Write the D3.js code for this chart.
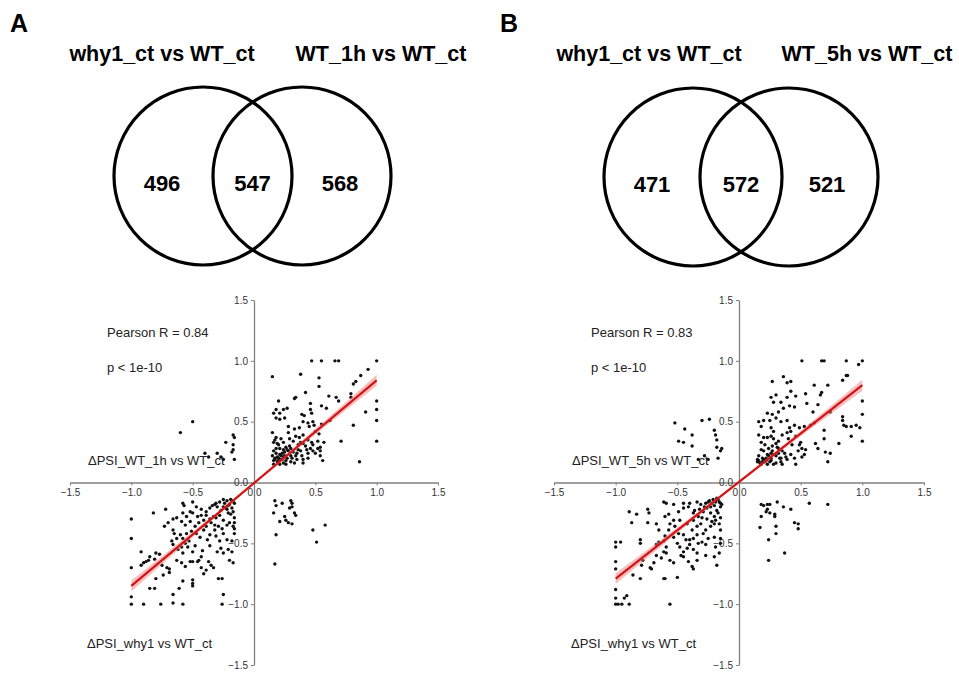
<!DOCTYPE html>
<html>
<head>
<meta charset="utf-8">
<script src="https://cdn.jsdelivr.net/npm/d3@7"></script>
<style>
  body { margin: 0; background: #fff; }
  text { font-family: "Liberation Sans", Arial, sans-serif; }
</style>
</head>
<body>
<script>
// venn data
var vennTitlesA = ['why1_ct vs WT_ct', 'WT_1h vs WT_ct'];
var vennCountsA = [496, 547, 568];
var vennTitlesB = ['why1_ct vs WT_ct', 'WT_5h vs WT_ct'];
var vennCountsB = [471, 572, 521];

// scatter data (x = dPSI why1 vs WT_ct, y = dPSI WT_xh vs WT_ct)
var pointsA = [
  [0.47,1.0],[0.55,1.0],[0.66,1.0],[0.69,1.0],[1.0,1.0],
  [0.15,0.87],[0.38,0.89],[0.53,0.86],[0.93,0.93],[0.87,0.88],[0.83,0.83],[0.81,0.81],
  [0.53,0.79],[0.42,0.74],[0.34,0.70],[0.33,0.69],[0.61,0.71],[0.79,0.73],[0.79,0.70],
  [0.67,0.70],[0.69,0.67],[1.0,0.67],[0.20,0.67],[0.46,0.65],[0.55,0.63],
  [0.18,0.60],[0.24,0.60],[0.27,0.61],[0.16,0.57],[0.21,0.57],[1.0,0.60],[0.91,0.58],
  [0.46,0.60],[0.47,0.57],[0.59,0.61],[0.39,0.56],[0.41,0.55],
  [0.18,0.53],[0.21,0.52],[0.25,0.53],[0.62,0.51],[1.0,0.51],
  [0.40,0.50],[0.44,0.49],[0.48,0.50],[0.49,0.47],[0.55,0.48],[0.45,0.46],[0.81,0.47],
  [0.28,0.46],[0.33,0.44],[0.37,0.45],[0.15,0.41],[0.28,0.41],
  [0.34,0.38],[0.40,0.39],[0.37,0.37],[0.50,0.42],[0.53,0.40],
  [0.18,0.37],[0.22,0.36],[0.29,0.36],[0.32,0.34],[0.44,0.35],[0.71,0.34],[1.0,0.34],[0.57,0.33],
  [0.16,0.33],[0.20,0.31],[0.24,0.33],[0.40,0.32],[0.42,0.30],[0.48,0.31],[0.52,0.28],[0.54,0.29],
  [0.21,0.28],[0.24,0.27],[0.26,0.29],[0.28,0.26],[0.16,0.26],[0.18,0.24],[0.21,0.23],
  [0.36,0.27],[0.38,0.26],[0.44,0.24],[0.48,0.26],[0.54,0.26],
  [0.15,0.22],[0.17,0.20],[0.20,0.20],[0.24,0.21],[0.27,0.20],[0.30,0.22],
  [0.16,0.18],[0.19,0.17],[0.23,0.19],[0.26,0.18],[0.30,0.17],[0.35,0.19],[0.40,0.19],[0.44,0.20],
  [0.34,0.22],[0.39,0.22],[0.54,0.22],[0.56,0.18],[0.86,0.17],
  [0.21,0.15],[0.26,0.15],[0.33,0.16],[0.40,0.16],[0.16,0.15],[0.24,0.16],
  [0.19,0.21],[0.22,0.22],[0.23,0.24],[0.25,0.25],[0.27,0.27],[0.29,0.30],[0.17,0.19],[0.20,0.18],
  [0.22,0.19],[0.25,0.22],[0.18,0.28],[0.19,0.32],[0.17,0.35],[0.30,0.28],[0.32,0.25],[0.35,0.24],
  [0.31,0.20],[0.36,0.31],[0.38,0.33],[0.43,0.27],[0.46,0.28],[0.50,0.24],[0.47,0.33],[0.52,0.34],
  [-0.50,0.50],[-0.60,0.41],[-0.23,0.33],[-0.17,0.39],[-0.16,0.37],[-0.17,0.31],[-0.18,0.25],
  [-0.16,0.19],[-0.17,0.27],[-0.30,0.24],[-0.37,0.21],[-0.27,0.21],[-0.25,0.19],[-0.40,0.24],
  [-1.0,-0.30],[-1.0,-0.46],[-1.0,-0.70],[-1.0,-0.94],[-1.0,-1.0],[-0.90,-1.0],[-0.76,-1.0],
  [-0.66,-0.99],[-0.58,-1.0],[-0.26,-1.0],[-0.25,-0.92],[-0.66,-0.92],[-0.85,-0.87],[-0.81,-0.87],
  [-0.61,-0.87],[-0.58,-0.81],[-0.50,-0.80],[-0.50,-0.83],[-0.50,-0.85],[-0.29,-0.79],[-0.26,-0.79],
  [-0.80,-0.79],[-0.74,-0.76],[-0.92,-0.68],[-0.90,-0.66],[-0.88,-0.65],[-0.86,-0.64],[-0.81,-0.63],
  [-0.77,-0.59],[-0.92,-0.57],[-0.85,-0.61],[-0.80,-0.58],[-0.75,-0.68],[-0.71,-0.70],[-0.69,-0.71],
  [-0.69,-0.74],[-0.63,-0.64],[-0.59,-0.66],[-0.56,-0.69],[-0.52,-0.65],[-0.50,-0.65],[-0.46,-0.65],
  [-0.43,-0.70],[-0.41,-0.75],[-0.39,-0.72],[-0.37,-0.65],[-0.33,-0.70],[-0.35,-0.68],[-0.45,-0.64],
  [-0.43,-0.61],[-0.27,-0.54],[-0.25,-0.58],[-0.21,-0.55],[-0.20,-0.64],[-0.17,-0.66],[-0.18,-0.57],
  [-0.62,-0.55],[-0.58,-0.58],[-0.54,-0.53],[-0.50,-0.57],[-0.67,-0.48],[-0.66,-0.51],[-0.63,-0.46],
  [-0.59,-0.53],[-0.56,-0.50],[-0.53,-0.48],[-0.73,-0.36],[-0.70,-0.33],[-0.66,-0.30],[-0.63,-0.29],
  [-0.59,-0.32],[-0.56,-0.35],[-0.52,-0.32],[-0.48,-0.36],[-0.66,-0.39],[-0.65,-0.42],[-0.60,-0.43],
  [-0.58,-0.46],[-0.55,-0.42],[-0.51,-0.40],[-0.47,-0.42],[-0.41,-0.39],[-0.39,-0.36],[-0.36,-0.43],
  [-0.32,-0.39],[-0.31,-0.44],[-0.28,-0.48],[-0.25,-0.42],[-0.22,-0.47],[-0.18,-0.48],[-0.82,-0.25],
  [-0.72,-0.22],[-0.58,-0.17],[-0.57,-0.19],[-0.50,-0.16],[-0.47,-0.20],[-0.43,-0.22],[-0.39,-0.24],
  [-0.36,-0.21],[-0.32,-0.18],[-0.31,-0.17],[-0.28,-0.16],[-0.25,-0.20],[-0.24,-0.17],[-0.22,-0.22],
  [-0.21,-0.25],[-0.20,-0.18],[-0.18,-0.21],[-0.17,-0.24],[-0.16,-0.17],[-0.28,-0.27],[-0.31,-0.29],
  [-0.33,-0.28],[-0.36,-0.30],[-0.39,-0.27],[-0.41,-0.31],[-0.16,-0.29],[-0.16,-0.33],[-0.16,-0.38],
  [-0.16,-0.42],[-0.17,-0.36],[-0.20,-0.33],[-0.22,-0.35],[-0.25,-0.31],[-0.26,-0.38],[-0.29,-0.36],
  [-0.32,-0.35],[-0.35,-0.33],[-0.58,-0.25],[-0.55,-0.28],[-0.52,-0.24],[-0.50,-0.25],[-0.46,-0.28],
  [-0.43,-0.27],[-0.19,-0.14],[-0.22,-0.15],[-0.17,-0.15],[-0.25,-0.14],[-0.21,-0.19],[-0.23,-0.21],
  [-0.19,-0.26],[-0.27,-0.23],[-0.30,-0.20],[-0.34,-0.19],[-0.45,-0.33],[-0.44,-0.45],[-0.38,-0.47],
  [-0.36,-0.52],[-0.30,-0.57],[-0.42,-0.56],[-0.48,-0.52],
  [0.17,-0.15],[0.18,-0.19],[0.23,-0.17],[0.30,-0.15],[0.31,-0.17],[0.29,-0.21],[0.31,-0.20],
  [0.16,-0.25],[0.25,-0.28],[0.33,-0.25],[0.34,-0.27],[0.21,-0.32],[0.26,-0.31],[0.28,-0.33],
  [0.31,-0.34],[0.18,-0.43],[0.48,-0.39],[0.51,-0.49],[0.58,-0.35],[0.17,-0.67]
];

var pointsB = [
  [0.51,1.0],[0.67,1.0],[0.69,1.0],[0.87,1.0],[0.97,0.97],[1.0,1.0],
  [0.27,0.83],[0.36,0.87],[0.39,0.82],[0.42,0.83],[0.87,0.88],[0.88,0.88],[0.84,0.84],
  [0.61,0.80],[0.72,0.80],[0.67,0.74],[0.66,0.72],[0.54,0.73],[0.42,0.75],
  [0.26,0.70],[0.30,0.72],[0.39,0.70],[0.46,0.71],[1.0,0.67],[0.64,0.64],[0.55,0.65],
  [0.28,0.66],[0.34,0.66],[0.36,0.61],[0.41,0.63],[0.45,0.62],
  [0.74,0.58],[0.84,0.54],[0.84,0.51],[1.0,0.56],[0.60,0.58],
  [0.23,0.57],[0.27,0.56],[0.32,0.58],
  [0.16,0.50],[0.20,0.51],[0.25,0.51],[0.30,0.53],[0.34,0.50],[0.39,0.51],
  [0.18,0.46],[0.26,0.45],[0.28,0.42],[0.41,0.45],[0.45,0.47],[0.49,0.45],[0.53,0.46],[0.58,0.47],[0.61,0.49],
  [0.85,0.47],[0.87,0.46],[0.91,0.46],[0.95,0.47],[0.98,0.45],[0.69,0.43],
  [0.16,0.39],[0.20,0.37],[0.23,0.37],[0.26,0.38],[0.28,0.36],[0.32,0.34],[0.35,0.39],[0.39,0.41],[0.42,0.42],[0.46,0.38],
  [0.69,0.36],[0.91,0.38],[1.0,0.34],[0.81,0.32],[0.62,0.32],[0.64,0.28],[0.70,0.25],[0.74,0.24],
  [0.49,0.31],[0.51,0.28],[0.54,0.27],
  [0.18,0.33],[0.21,0.31],[0.24,0.28],[0.27,0.30],[0.30,0.32],[0.32,0.28],
  [0.18,0.27],[0.20,0.26],[0.23,0.23],[0.26,0.24],[0.28,0.23],[0.32,0.24],[0.35,0.26],
  [0.16,0.22],[0.19,0.20],[0.22,0.20],[0.26,0.20],[0.30,0.22],[0.34,0.20],[0.38,0.21],[0.42,0.23],
  [0.16,0.18],[0.19,0.17],[0.22,0.18],[0.26,0.18],[0.30,0.16],[0.34,0.17],[0.39,0.19],[0.45,0.20],[0.51,0.21],
  [0.18,0.15],[0.23,0.15],[0.28,0.15],[0.35,0.15],[0.46,0.15],
  [0.72,0.17],[0.53,0.23],[0.15,0.17],[0.15,0.19],
  [0.17,0.16],[0.20,0.19],[0.24,0.22],[0.27,0.26],[0.31,0.29],[0.21,0.17],[0.25,0.17],[0.33,0.20],
  [0.37,0.24],[0.48,0.26],[0.50,0.33],[0.43,0.31],[0.40,0.36],
  [-0.52,0.49],[-0.49,0.34],[-0.45,0.33],[-0.44,0.44],[-0.38,0.39],[-0.38,0.30],[-0.30,0.51],
  [-0.24,0.52],[-0.20,0.43],[-0.19,0.39],[-0.18,0.35],[-0.18,0.29],[-0.15,0.26],[-0.17,0.20],
  [-0.28,0.22],[-0.25,0.19],[-0.33,0.19],[-0.14,0.28],
  [-1.0,-0.49],[-1.0,-0.53],[-0.96,-0.49],[-1.0,-0.65],[-1.0,-0.71],[-1.0,-0.88],[-1.0,-0.95],
  [-1.0,-1.0],[-0.98,-1.0],[-0.95,-1.0],[-0.89,-1.0],[-0.93,-0.95],[-0.91,-0.93],[-0.56,-1.0],
  [-0.86,-0.76],[-0.80,-0.79],[-0.89,-0.24],[-0.83,-0.26],[-0.87,-0.33],[-0.74,-0.22],[-0.73,-0.25],
  [-0.74,-0.33],[-0.80,-0.47],[-0.80,-0.50],[-0.67,-0.34],[-0.65,-0.39],
  [-0.61,-0.16],[-0.59,-0.17],[-0.57,-0.26],[-0.60,-0.28],[-0.53,-0.18],
  [-0.65,-0.49],[-0.67,-0.51],[-0.61,-0.48],[-0.59,-0.53],
  [-0.79,-0.68],[-0.78,-0.64],[-0.72,-0.70],[-0.71,-0.71],[-0.69,-0.66],
  [-0.67,-0.60],[-0.63,-0.62],[-0.61,-0.57],[-0.59,-0.58],[-0.56,-0.64],[-0.53,-0.66],
  [-0.45,-0.61],[-0.41,-0.65],[-0.38,-0.69],[-0.37,-0.71],[-0.34,-0.64],
  [-0.50,-0.78],[-0.61,-0.79],[-0.60,-0.79],
  [-0.50,-0.50],[-0.48,-0.53],[-0.45,-0.57],[-0.42,-0.54],[-0.40,-0.51],[-0.37,-0.55],[-0.34,-0.58],
  [-0.53,-0.45],[-0.49,-0.42],[-0.45,-0.43],[-0.40,-0.47],[-0.37,-0.46],[-0.34,-0.43],[-0.30,-0.49],
  [-0.27,-0.51],[-0.25,-0.46],[-0.20,-0.45],[-0.19,-0.53],[-0.18,-0.68],
  [-0.15,-0.39],[-0.15,-0.46],[-0.15,-0.50],[-0.20,-0.61],[-0.16,-0.58],
  [-0.56,-0.34],[-0.52,-0.36],[-0.48,-0.31],[-0.42,-0.34],[-0.38,-0.39],[-0.34,-0.36],[-0.31,-0.34],
  [-0.27,-0.39],[-0.23,-0.36],[-0.20,-0.34],[-0.16,-0.34],
  [-0.49,-0.24],[-0.45,-0.21],[-0.41,-0.20],[-0.37,-0.25],[-0.33,-0.28],[-0.29,-0.24],[-0.26,-0.21],
  [-0.23,-0.25],[-0.20,-0.28],[-0.18,-0.23],[-0.15,-0.20],
  [-0.45,-0.17],[-0.40,-0.17],[-0.34,-0.16],[-0.31,-0.18],[-0.27,-0.17],[-0.25,-0.16],[-0.22,-0.17],
  [-0.19,-0.16],[-0.16,-0.16],[-0.15,-0.17],[-0.14,-0.18],
  [-0.37,-0.31],[-0.30,-0.29],[-0.26,-0.30],[-0.19,-0.31],[-0.15,-0.29],
  [-0.53,-0.31],[-0.57,-0.39],[-0.60,-0.44],
  [-0.18,-0.13],[-0.21,-0.14],[-0.24,-0.15],[-0.17,-0.14],[-0.20,-0.19],[-0.23,-0.20],[-0.28,-0.20],
  [-0.32,-0.22],[-0.36,-0.23],[-0.17,-0.25],[-0.22,-0.32],[-0.29,-0.42],[-0.33,-0.50],[-0.43,-0.47],
  [-0.47,-0.60],[-0.27,-0.60],
  [0.18,-0.18],[0.20,-0.19],[0.23,-0.18],[0.25,-0.18],[0.31,-0.16],[0.23,-0.22],[0.22,-0.24],
  [0.25,-0.25],[0.29,-0.26],[0.29,-0.28],[0.36,-0.20],[0.42,-0.22],[0.18,-0.28],[0.17,-0.37],
  [0.30,-0.36],[0.45,-0.33],[0.48,-0.34],[0.48,-0.38],[0.30,-0.42],[0.24,-0.47],[0.37,-0.58],
  [0.24,-0.64],[0.57,-0.17],[0.72,-0.18]
];

// linear fit end points and confidence band half widths
var fitA = [[-1.0, -0.85], [1.0, 0.84]];
var fitB = [[-1.0, -0.79], [1.0, 0.80]];
var ciX = [-1.0, -0.5, 0, 0.5, 1.0];
var ciHalfA = [0.045, 0.022, 0.012, 0.022, 0.045];
var ciHalfB = [0.045, 0.022, 0.012, 0.022, 0.045];

var statsA = ['Pearson R = 0.84', 'p < 1e-10'];
var statsB = ['Pearson R = 0.83', 'p < 1e-10'];
var yLabelA = '\u0394PSI_WT_1h vs WT_ct';
var yLabelB = '\u0394PSI_WT_5h vs WT_ct';
var xLabel = '\u0394PSI_why1 vs WT_ct';
var tickVals = [-1.5, -1.0, -0.5, 0.0, 0.5, 1.0, 1.5];

var width = 959, height = 673;

var svg = d3.select("body").append("svg")
  .attr("width", width).attr("height", height);
svg.append("rect").attr("width", width).attr("height", height).attr("fill", "#fff");

function drawVenn(letter, lx, titles, counts, cx1, cx2, cy, r, tx) {
  svg.append("text").attr("x", lx).attr("y", 32)
    .attr("font-size", 25).attr("font-weight", "bold").text(letter);

  svg.selectAll(null).data(titles).enter().append("text")
    .attr("x", function (d, i) { return tx[i]; })
    .attr("y", 61)
    .attr("text-anchor", "middle")
    .attr("font-size", 21.5).attr("font-weight", "bold")
    .text(function (d) { return d; });

  svg.selectAll(null).data([cx1, cx2]).enter().append("circle")
    .attr("cx", function (d) { return d; }).attr("cy", cy).attr("r", r)
    .attr("fill", "none").attr("stroke", "#000").attr("stroke-width", 3.2);

  var numX = [cx1 - 41, (cx1 + cx2) / 2, cx2 + 38];
  svg.selectAll(null).data(counts).enter().append("text")
    .attr("x", function (d, i) { return numX[i]; })
    .attr("y", cy + 15)
    .attr("text-anchor", "middle")
    .attr("font-size", 22).attr("font-weight", "bold")
    .text(function (d) { return d; });
}

drawVenn("A", 10, vennTitlesA, vennCountsA, 203, 302, 176, 89, [162, 381]);
drawVenn("B", 500, vennTitlesB, vennCountsB, 693, 789, 177, 89, [649, 867]);

function drawScatter(x0, x1, points, fit, ciHalf, stats, yLabel) {
  var x = d3.scaleLinear().domain([-1.5, 1.5]).range([x0, x1]);
  var y = d3.scaleLinear().domain([-1.5, 1.5]).range([665, 300]);
  var g = svg.append("g");

  var fmt = d3.format(".1f");
  var xAxis = d3.axisBottom(x).tickValues(tickVals).tickSize(3).tickSizeOuter(0).tickFormat(fmt);
  var yAxis = d3.axisLeft(y).tickValues(tickVals).tickSize(3).tickSizeOuter(0).tickFormat(fmt);

  var ax = g.append("g").attr("transform", "translate(0," + y(0) + ")").call(xAxis);
  var ay = g.append("g").attr("transform", "translate(" + x(0) + ",0)").call(yAxis);
  [ax, ay].forEach(function (a) {
    a.select(".domain").attr("stroke", "#808080").attr("stroke-width", 1.3);
    a.selectAll(".tick line").attr("stroke", "#808080");
    a.selectAll(".tick text").attr("fill", "#333").attr("font-size", 10)
      .attr("font-family", "Liberation Sans, Arial, sans-serif");
  });

  g.selectAll(null).data(points).enter().append("circle")
    .attr("cx", function (d) { return x(d[0]); })
    .attr("cy", function (d) { return y(d[1]); })
    .attr("r", 1.7)
    .attr("fill", "#111");

  var slope = (fit[1][1] - fit[0][1]) / (fit[1][0] - fit[0][0]);
  var yFit = function (v) { return fit[0][1] + slope * (v - fit[0][0]); };

  var band = d3.area()
    .curve(d3.curveMonotoneX)
    .x(function (d, i) { return x(d); })
    .y0(function (d, i) { return y(yFit(d) - ciHalf[i]); })
    .y1(function (d, i) { return y(yFit(d) + ciHalf[i]); });
  g.append("path").attr("d", band(ciX))
    .attr("fill", "#f08080").attr("opacity", 0.5);

  g.append("path")
    .attr("d", d3.line().x(function (d) { return x(d[0]); }).y(function (d) { return y(d[1]); })(fit))
    .attr("stroke", "#d21414").attr("stroke-width", 2.2).attr("fill", "none");

  g.selectAll(null).data(stats).enter().append("text")
    .attr("x", x(-1.5) + 37)
    .attr("y", function (d, i) { return 337 + i * 35; })
    .attr("font-size", 13).attr("fill", "#222")
    .text(function (d) { return d; });

  g.append("text").attr("x", x(-1.5) + 18).attr("y", 465)
    .attr("font-size", 13).attr("fill", "#222").text(yLabel);
  g.append("text").attr("x", x(-1.5) + 17).attr("y", 648)
    .attr("font-size", 13).attr("fill", "#222").text(xLabel);
}

drawScatter(70, 438, pointsA, fitA, ciHalfA, statsA, yLabelA);
drawScatter(554, 924, pointsB, fitB, ciHalfB, statsB, yLabelB);
</script>
</body>
</html>
